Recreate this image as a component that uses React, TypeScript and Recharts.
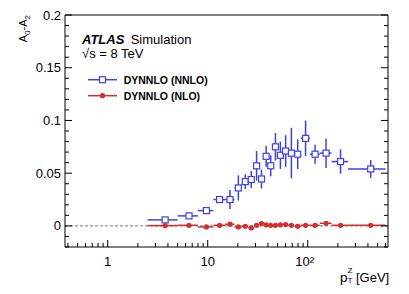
import { ComposedChart, ErrorBar, Legend, ReferenceLine, Scatter, XAxis, YAxis } from "recharts";

const W = 409;
const H = 294;
const BLUE = "#4040e0";
const RED = "#d22f2f";
const FONT = '"Liberation Sans", Arial, Helvetica, sans-serif';

// pT(Z) bins [GeV]
const binLo = [2.5, 5, 8, 11.4, 14.9, 18.5, 22, 25.5, 29, 32.6, 36.4, 40.4, 44.9, 50.2, 56.4, 63.9, 73.4, 85.4, 105, 132, 173, 253];
const binHi = [5, 8, 11.4, 14.9, 18.5, 22, 25.5, 29, 32.6, 36.4, 40.4, 44.9, 50.2, 56.4, 63.9, 73.4, 85.4, 105, 132, 173, 253, 600];

// A0 - A2 per bin
const nnloVals = [0.0057, 0.0095, 0.0145, 0.025, 0.025, 0.036, 0.042, 0.044, 0.057, 0.0445, 0.066, 0.057, 0.075, 0.067, 0.071, 0.069, 0.068, 0.083, 0.068, 0.069, 0.061, 0.054];
const nnloErrs = [0.001, 0.0015, 0.003, 0.003, 0.009, 0.012, 0.007, 0.008, 0.014, 0.009, 0.01, 0.01, 0.013, 0.013, 0.015, 0.024, 0.014, 0.017, 0.009, 0.014, 0.0115, 0.0085];
const nloVals = [0.0003, 0.0006, -0.001, 0.0006, 0.0016, -0.001, -0.0003, -0.0019, 0.0006, 0.0022, 0.001, 0.0006, 0.0006, 0.001, 0.0013, 0.0006, -0.0003, 0.0006, 0.0006, 0.0025, 0.0006, 0.0006];
const nloErrs = [0.0005, 0.0005, 0.0006, 0.0006, 0.0007, 0.0007, 0.0008, 0.0008, 0.0008, 0.0009, 0.0009, 0.0009, 0.001, 0.001, 0.001, 0.001, 0.001, 0.001, 0.001, 0.001, 0.001, 0.001];

const xMajor = [1, 10, 100];
const xMajorLabels = ["1", "10", "10²"];
const xMinor = [0.4, 0.5, 0.6, 0.7, 0.8, 0.9, 2, 3, 4, 5, 6, 7, 8, 9, 20, 30, 40, 50, 60, 70, 80, 90, 200, 300, 400, 500, 600];
const yMajor = [0, 0.05, 0.1, 0.15, 0.2];
const yMajorLabels = ["0", "0.05", "0.1", "0.15", "0.2"];
const yMinor = [-0.02, -0.01, 0.01, 0.02, 0.03, 0.04, 0.06, 0.07, 0.08, 0.09, 0.11, 0.12, 0.13, 0.14, 0.16, 0.17, 0.18, 0.19];

const legendItems = [
  { name: "DYNNLO (NNLO)", color: BLUE, open: true },
  { name: "DYNNLO (NLO)", color: RED, open: false },
];

const X_DOMAIN: [number, number] = [0.374, 635];
const Y_DOMAIN: [number, number] = [-0.02, 0.2];
const xTicks = [...xMinor, ...xMajor].sort((a, b) => a - b);
const yTicks = [...yMinor, ...yMajor].sort((a, b) => a - b);

function toRows(vals: number[], errs: number[]) {
  return binLo.map((lo, i) => {
    const c = (lo + binHi[i]) / 2;
    return { pt: c, val: vals[i], xErr: [c - lo, binHi[i] - c], yErr: errs[i] };
  });
}
const nnloRows = toRows(nnloVals, nnloErrs);
const nloRows = toRows(nloVals, nloErrs);

const BottomTick = (props: any) => {
  const { x, y, payload } = props;
  const i = xMajor.indexOf(payload.value);
  return (
    <g>
      <line x1={x} x2={x} y1={y} y2={y - (i >= 0 ? 7 : 4)} stroke="#000" />
      {i >= 0 && (
        <text x={x - (i === 2 ? 3 : 0)} y={y + 19} textAnchor="middle" fontSize={13} fontFamily={FONT} fill="#000">
          {xMajorLabels[i]}
        </text>
      )}
    </g>
  );
};

const TopTick = (props: any) => {
  const { x, y, payload } = props;
  const major = xMajor.includes(payload.value);
  return <line x1={x} x2={x} y1={y} y2={y + (major ? 7 : 4)} stroke="#000" />;
};

const LeftTick = (props: any) => {
  const { x, y, payload } = props;
  const i = yMajor.indexOf(payload.value);
  return (
    <g>
      <line x1={x} x2={x + (i >= 0 ? 7 : 4)} y1={y} y2={y} stroke="#000" />
      {i >= 0 && (
        <text x={x - 4} y={y + 4.5} textAnchor="end" fontSize={13} fontFamily={FONT} fill="#000">
          {yMajorLabels[i]}
        </text>
      )}
    </g>
  );
};

const RightTick = (props: any) => {
  const { x, y, payload } = props;
  const major = yMajor.includes(payload.value);
  return <line x1={x} x2={x - (major ? 7 : 4)} y1={y} y2={y} stroke="#000" />;
};

const OpenSquare = (p: any) => (
  <rect x={p.cx - 3} y={p.cy - 3} width={6} height={6} fill="#fff" stroke={BLUE} strokeWidth={1.2} />
);
const Dot = (p: any) => <circle cx={p.cx} cy={p.cy} r={2.6} fill={RED} />;

const LegendBox = () => (
  <svg width={140} height={32}>
    {legendItems.map((it, i) => {
      const cy = 7.7 + i * 16;
      return (
        <g key={it.name}>
          <line x1={2} x2={31} y1={cy} y2={cy} stroke={it.color} strokeWidth={1.5} />
          {it.open ? (
            <rect x={13.5} y={cy - 3} width={6} height={6} fill="#fff" stroke={it.color} strokeWidth={1.2} />
          ) : (
            <circle cx={16.5} cy={cy} r={2.6} fill={it.color} />
          )}
          <text x={37.7} y={cy + 3.8} fontSize={10.5} fontWeight="bold" fontFamily={FONT} fill="#000">
            {it.name}
          </text>
        </g>
      );
    })}
  </svg>
);

export default function App() {
  return (
    <div style={{ position: "absolute", left: 0, top: 0, width: W, height: H, background: "#fff" }}>
      <ComposedChart width={W} height={H} margin={{ top: 14, right: 0, bottom: 0, left: 0 }}>
        <XAxis
          dataKey="pt"
          type="number"
          scale="log"
          domain={X_DOMAIN}
          allowDataOverflow
          ticks={xTicks}
          interval={0}
          tick={<BottomTick />}
          tickLine={false}
          tickSize={0}
          tickMargin={0}
          height={47}
          axisLine={{ stroke: "#000" }}
        />
        <XAxis
          xAxisId="top"
          orientation="top"
          type="number"
          scale="log"
          domain={X_DOMAIN}
          allowDataOverflow
          ticks={xTicks}
          interval={0}
          tick={<TopTick />}
          tickLine={false}
          tickSize={0}
          tickMargin={0}
          height={1}
          axisLine={{ stroke: "#000" }}
        />
        <YAxis
          dataKey="val"
          type="number"
          domain={Y_DOMAIN}
          allowDataOverflow
          ticks={yTicks}
          interval={0}
          tick={<LeftTick />}
          tickLine={false}
          tickSize={0}
          tickMargin={0}
          width={65}
          axisLine={{ stroke: "#000" }}
        />
        <YAxis
          yAxisId="right"
          orientation="right"
          type="number"
          domain={Y_DOMAIN}
          allowDataOverflow
          ticks={yTicks}
          interval={0}
          tick={<RightTick />}
          tickLine={false}
          tickSize={0}
          tickMargin={0}
          width={21}
          axisLine={{ stroke: "#000" }}
        />
        <ReferenceLine y={0} stroke="#777" strokeDasharray="3 2" />
        <Scatter name="DYNNLO (NNLO)" data={nnloRows} fill={BLUE} shape={OpenSquare} isAnimationActive={false}>
          <ErrorBar dataKey="xErr" direction="x" width={0} stroke={BLUE} strokeWidth={1.5} isAnimationActive={false} />
          <ErrorBar dataKey="yErr" direction="y" width={0} stroke={BLUE} strokeWidth={1.5} isAnimationActive={false} />
        </Scatter>
        <Scatter name="DYNNLO (NLO)" data={nloRows} fill={RED} shape={Dot} isAnimationActive={false}>
          <ErrorBar dataKey="xErr" direction="x" width={0} stroke={RED} strokeWidth={1.5} isAnimationActive={false} />
          <ErrorBar dataKey="yErr" direction="y" width={0} stroke={RED} strokeWidth={1.5} isAnimationActive={false} />
        </Scatter>
        <Legend
          layout="vertical"
          align="center"
          verticalAlign="middle"
          wrapperStyle={{ left: 86, top: 72, width: 140 }}
          content={() => <LegendBox />}
        />
      </ComposedChart>
      <svg width={W} height={H} style={{ position: "absolute", left: 0, top: 0, pointerEvents: "none" }}>
        <text transform="translate(27,15) rotate(-90)" textAnchor="end" fontSize={11} fontFamily={FONT} fill="#000">
          A<tspan dy={3} fontSize={8}>0</tspan>
          <tspan dy={-3}>-A</tspan>
          <tspan dy={3} fontSize={8}>2</tspan>
        </text>
        <text x={82} y={44} fontSize={13} fontFamily={FONT} fill="#000">
          <tspan fontWeight="bold" fontStyle="italic">ATLAS</tspan>
          <tspan x={130.7}>Simulation</tspan>
        </text>
        <text x={82} y={58} fontSize={13} fontFamily={FONT} fill="#000">
          √s = 8 TeV
        </text>
        <text x={340} y={282} fontSize={13.5} fontFamily={FONT} fill="#000">p</text>
        <text x={347.5} y={272.5} fontSize={8} fontFamily={FONT} fill="#000">Z</text>
        <text x={347.5} y={282.5} fontSize={8} fontFamily={FONT} fill="#000">T</text>
        <text x={356} y={282} fontSize={13} fontFamily={FONT} fill="#000">[GeV]</text>
      </svg>
    </div>
  );
}
